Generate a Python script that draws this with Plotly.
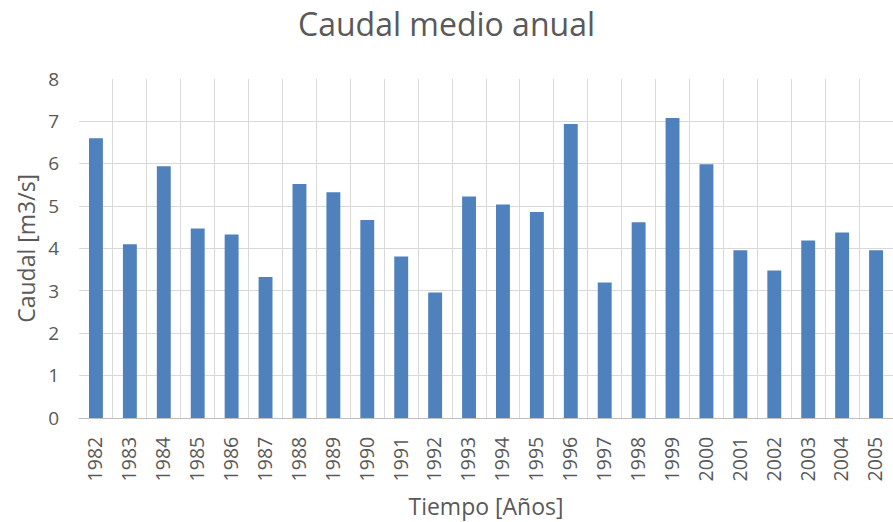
import plotly.graph_objects as go

years = [str(y) for y in range(1982, 2006)]
caudal = [6.60, 4.10, 5.94, 4.47, 4.33, 3.33, 5.52, 5.33, 4.67, 3.81, 2.96, 5.23,
          5.04, 4.86, 6.94, 3.20, 4.62, 7.08, 5.99, 3.96, 3.48, 4.19, 4.38, 3.96]

font = "'Open Sans', 'Noto Sans', sans-serif"
gray = "#595959"

fig = go.Figure()
fig.add_bar(x=years, y=caudal, marker_color="#4F81BD", marker_line_width=0)

fig.update_layout(
    width=893,
    height=522,
    title=dict(text="Caudal medio anual", x=0.5, xanchor="center", y=0.953, yanchor="middle",
               font=dict(family=font, size=32, color=gray)),
    plot_bgcolor="white",
    paper_bgcolor="white",
    bargap=0.59,
    showlegend=False,
    margin=dict(l=79, r=0, t=79, b=104),
    font=dict(family=font, color=gray),
)
fig.update_xaxes(
    type="category",
    tickson="boundaries",
    showgrid=True,
    gridcolor="#D9D9D9",
    gridwidth=1,
    tickangle=-90,
    tickfont=dict(size=19.5, color=gray),
    ticks="",
    ticklabelstandoff=10,
    showline=True,
    linecolor="#BFBFBF",
    automargin=False,
    title=dict(text="Tiempo [Años]", font=dict(size=23, color=gray), standoff=24),
)
fig.update_yaxes(
    range=[0, 8],
    dtick=1,
    showgrid=True,
    gridcolor="#D9D9D9",
    gridwidth=1,
    zeroline=False,
    automargin=False,
    tickfont=dict(size=19, color=gray),
    ticklabelstandoff=19,
)
# y title as an annotation so it can sit closer to the left edge
fig.add_annotation(
    text="Caudal [m3/s]", textangle=-90, xref="paper", yref="paper",
    x=-0.066, y=0.5, xanchor="center", yanchor="middle", showarrow=False,
    font=dict(family=font, size=23, color=gray),
)

# drop the default 8px body margin so the figure fills the window
fig.write_html("out.html", config={"displayModeBar": False},
               post_script="document.body.style.margin = '0';")
